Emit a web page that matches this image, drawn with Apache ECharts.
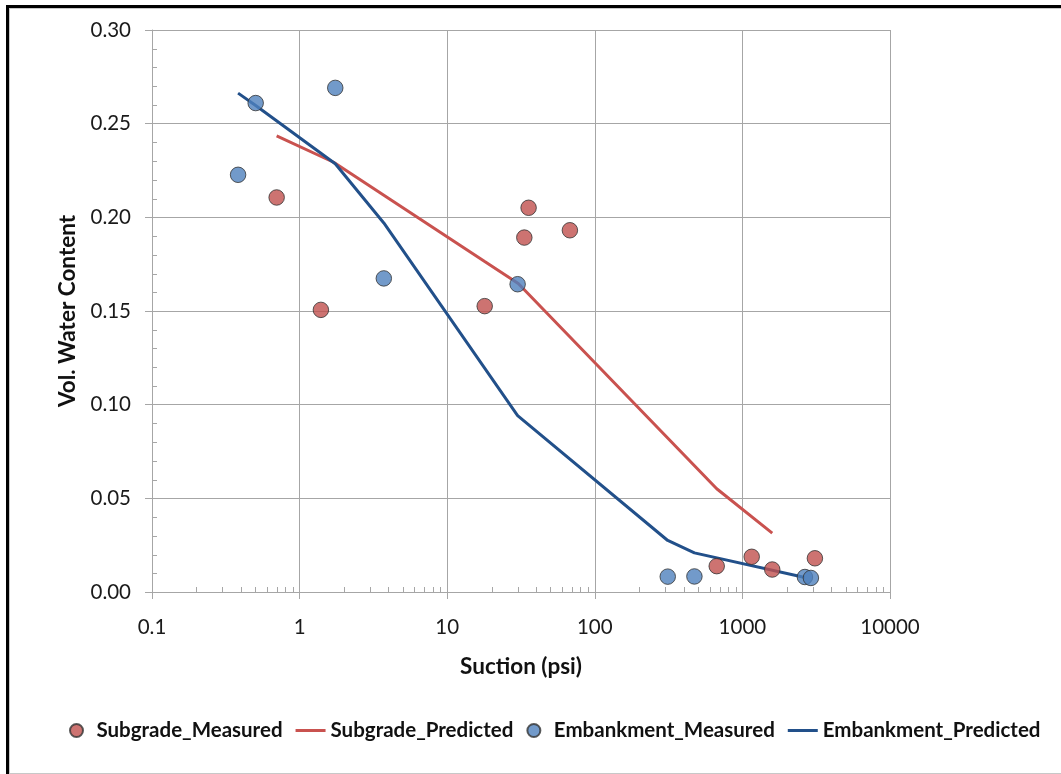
<!DOCTYPE html>
<html>
<head>
<meta charset="utf-8">
<script src="https://cdn.jsdelivr.net/npm/echarts@6/dist/echarts.min.js"></script>
<style>
  html, body { margin:0; padding:0; width:1061px; height:774px; overflow:hidden; background:#fff; }
  #outer { position:absolute; left:6px; top:5px; width:1100px; height:800px; border-left:3px solid #000; border-top:3px solid #000; }
  #inner { position:absolute; left:9px; top:8px; width:1100px; height:764px; border-left:1px solid #c8c8c8; border-top:1px solid #c8c8c8; border-bottom:1px solid #c8c8c8; }
  #chart { position:absolute; left:0; top:0; width:1061px; height:774px; }
</style>
</head>
<body>
<div id="outer"></div>
<div id="inner"></div>
<div id="chart"></div>
<script>
// ---- data ----
const subMeasX = [0.699, 1.394, 17.95, 33.3, 35.6, 67.8, 670, 1156, 1593, 3099];
const subMeasY = [0.2106, 0.1506, 0.1526, 0.1892, 0.2051, 0.1931, 0.0138, 0.0188, 0.0120, 0.0180];

const subPredX = [0.699, 1.70, 17.95, 30.3, 670, 1593];
const subPredY = [0.2435, 0.2294, 0.1764, 0.1647, 0.0551, 0.0314];

const embMeasX = [0.383, 0.504, 1.744, 3.72, 30.0, 312, 473, 2652, 2911];
const embMeasY = [0.2227, 0.2610, 0.2691, 0.1674, 0.1643, 0.0082, 0.0083, 0.0080, 0.0075];

const embPredX = [0.383, 0.504, 1.744, 3.72, 30.0, 312, 473, 2652];
const embPredY = [0.2663, 0.2597, 0.2286, 0.1970, 0.0942, 0.0275, 0.0209, 0.0077];

const xTickLabels = ['0.1', '1', '10', '100', '1000', '10000'];
const yTickLabels = ['0.00', '0.05', '0.10', '0.15', '0.20', '0.25', '0.30'];
const seriesNames = ['Subgrade_Measured', 'Subgrade_Predicted', 'Embankment_Measured', 'Embankment_Predicted'];

const pairs = (xs, ys) => xs.map((x, i) => [x, ys[i]]);

const FONT = 'Lato';
const GRID_COLOR = '#a6a6a6';
const LINE_ICON = 'path://M0,0L30,0L30,3L0,3Z';
const chart = echarts.init(document.getElementById('chart'), null, { renderer: 'canvas' });

const option = {
  animation: false,
  backgroundColor: 'transparent',
  grid: { left: 152, right: 171, top: 30, bottom: 182, containLabel: false },
  xAxis: {
    type: 'log', logBase: 10, min: 0.1, max: 10000,
    name: 'Suction (psi)', nameLocation: 'middle', nameGap: 63,
    nameTextStyle: { fontFamily: FONT, fontSize: 22.5, fontWeight: 'bold', color: '#111' },
    axisLine: { show: true, lineStyle: { color: GRID_COLOR, width: 1 } },
    axisTick: { show: true, length: 7, lineStyle: { color: GRID_COLOR } },
    axisLabel: { margin: 25, fontFamily: FONT, fontSize: 20.5, color: '#1a1a1a',
      formatter: (v, i) => xTickLabels[i] !== undefined ? xTickLabels[i] : String(v) },
    splitLine: { show: true, lineStyle: { color: GRID_COLOR, width: 1 } },
    minorTick: { show: false }
  },
  yAxis: {
    type: 'value', min: 0, max: 0.3, interval: 0.05,
    name: 'Vol. Water Content', nameLocation: 'middle', nameGap: 72,
    nameTextStyle: { fontFamily: FONT, fontSize: 22.5, fontWeight: 'bold', color: '#111' },
    axisLine: { show: true, lineStyle: { color: GRID_COLOR, width: 1 } },
    axisTick: { show: true, length: 7, lineStyle: { color: GRID_COLOR } },
    axisLabel: { margin: 21, fontFamily: FONT, fontSize: 20.5, color: '#1a1a1a',
      formatter: (v, i) => yTickLabels[i] !== undefined ? yTickLabels[i] : v.toFixed(2) },
    splitLine: { show: true, lineStyle: { color: GRID_COLOR, width: 1 } }
  },
  legend: {
    left: 64, top: 715, itemWidth: 30, itemHeight: 13, itemGap: 13,
    textStyle: { fontFamily: FONT, fontSize: 20.5, fontWeight: 'bold', color: '#111' },
    data: [
      { name: seriesNames[0], icon: 'circle' },
      { name: seriesNames[1], icon: LINE_ICON },
      { name: seriesNames[2], icon: 'circle' },
      { name: seriesNames[3], icon: LINE_ICON }
    ]
  },
  series: [
    { name: seriesNames[0], type: 'scatter', z: 4, symbol: 'circle', symbolSize: 15.5,
      itemStyle: { color: '#C0504D', borderColor: '#333', borderWidth: 1 },
      data: pairs(subMeasX, subMeasY) },
    { name: seriesNames[1], type: 'line', z: 2, symbol: 'none', smooth: false,
      lineStyle: { color: '#C9524F', width: 3 }, itemStyle: { color: '#C9524F' },
      data: pairs(subPredX, subPredY) },
    { name: seriesNames[2], type: 'scatter', z: 4, symbol: 'circle', symbolSize: 15.5,
      itemStyle: { color: '#4F81BD', borderColor: '#333', borderWidth: 1 },
      data: pairs(embMeasX, embMeasY) },
    { name: seriesNames[3], type: 'line', z: 3, symbol: 'none', smooth: false,
      lineStyle: { color: '#22508A', width: 3 }, itemStyle: { color: '#22508A' },
      data: pairs(embPredX, embPredY) }
  ]
};
chart.setOption(option);

// minor ticks (axis decoration) placed through the chart's own scales
function addMinorTicks() {
  const els = [];
  const y0 = chart.convertToPixel({ yAxisIndex: 0 }, 0);
  const xLeft = chart.convertToPixel({ xAxisIndex: 0 }, 0.1);
  for (let d = 0.1; d < 10000; d *= 10) {
    for (let k = 2; k <= 9; k++) {
      const px = Math.round(chart.convertToPixel({ xAxisIndex: 0 }, d * k)) + 0.5;
      els.push({ type: 'line', silent: true, z: 1,
        shape: { x1: px, y1: y0, x2: px, y2: y0 - 5 },
        style: { stroke: GRID_COLOR, lineWidth: 1 } });
    }
  }
  for (let j = 0; j <= 30; j++) {
    if (j % 5 === 0) continue;
    const py = Math.round(chart.convertToPixel({ yAxisIndex: 0 }, j / 100)) + 0.5;
    els.push({ type: 'line', silent: true, z: 1,
      shape: { x1: xLeft, y1: py, x2: xLeft + 5, y2: py },
      style: { stroke: GRID_COLOR, lineWidth: 1 } });
  }
  chart.setOption({ graphic: els });
}
addMinorTicks();
</script>
</body>
</html>
